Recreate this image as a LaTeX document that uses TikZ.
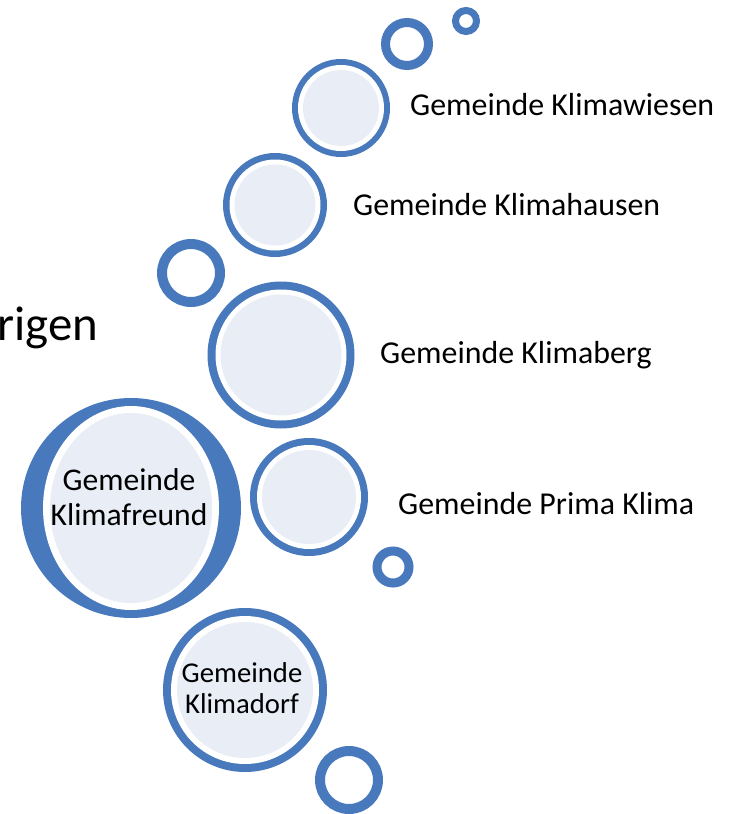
\documentclass[tikz,border=0pt]{standalone}
\usepackage{fontspec}
\setmainfont{Carlito}
\definecolor{ringblue}{HTML}{4779BC}
\definecolor{bubblefill}{HTML}{E8EDF6}

\begin{document}
\begin{tikzpicture}[x=1bp,y=-1bp,
  ring/.style={draw=ringblue},
  label/.style={anchor=base west,inner sep=0pt,font=\fontsize{32}{38}\selectfont},
  inlabel/.style={align=center,inner sep=0pt}]
  \useasboundingbox (0,0) rectangle (729,814);

  % loose rings along the arc
  \foreach \cx/\cy/\r/\t in {466/21/14/7, 407/44/26/9, 191/273/34/10, 393/567/20.5/9, 349/780/34/10}
    \draw[ring,line width={\t bp}] (\cx,\cy) circle[radius=\r-\t/2];

  % bubbles: blue rim, white gap, pale core
  \foreach \cx/\cy/\r/\t/\w in {341/108/49/6/5, 275/205/52/6.5/5, 281/355/73.5/8/5, 309/497/59/7/5, 245/690/82/8/6} {
    \fill[ringblue] (\cx,\cy) circle[radius=\r];
    \fill[white] (\cx,\cy) circle[radius=\r-\t];
    \fill[bubblefill] (\cx,\cy) circle[radius=\r-\t-\w];
  }

  % the large bubble has a tall inner ellipse
  \fill[ringblue] (131,508) circle[radius=110];
  \fill[white] (131,508) ellipse[x radius=88,y radius=102];
  \fill[bubblefill] (131,508) ellipse[x radius=81,y radius=95];

  \node[label] (wiesen) at (410,115) {Gemeinde Klimawiesen};
  \node[label] (hausen) at (353,215) {Gemeinde Klimahausen};
  \node[label] (berg) at (380,363) {Gemeinde Klimaberg};
  \node[label] (prima) at (398,514) {Gemeinde Prima Klima};
  \node[inlabel,font=\fontsize{31.7}{35}\selectfont] (freund) at (129,497) {Gemeinde\\Klimafreund};
  \node[inlabel,font=\fontsize{28.8}{31}\selectfont] (dorf) at (242,688) {Gemeinde\\Klimadorf};
  \node[anchor=base west,inner sep=0pt,font=\fontsize{49}{58}\selectfont] (rest) at (-3,340) {rigen};
\end{tikzpicture}
\end{document}
